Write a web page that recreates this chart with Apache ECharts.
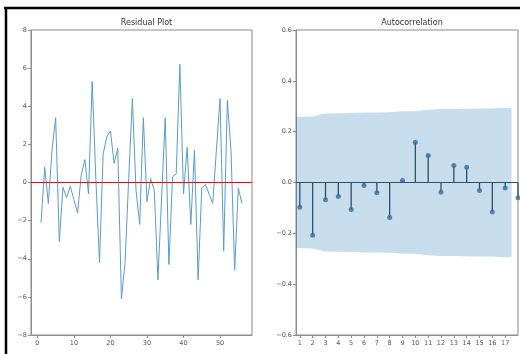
<!DOCTYPE html>
<html>
<head>
<meta charset="utf-8">
<script src="https://cdn.jsdelivr.net/npm/echarts@6/dist/echarts.min.js"></script>
<style>html,body{margin:0;padding:0;background:#fff;}#c{width:520px;height:354px;}</style>
</head>
<body>
<div id="c"></div>
<script>
// Residual series (index 1..56)
const residualIdx = [1,2,3,4,5,6,7,8,9,10,11,12,13,14,15,16,17,18,19,20,21,22,23,24,25,26,27,28,29,30,31,32,33,34,35,36,37,38,39,40,41,42,43,44,45,46,47,48,49,50,51,52,53,54,55,56];
const residuals = [-2.1,0.8,-1.1,1.7,3.4,-3.1,-0.25,-0.8,-0.2,-0.9,-1.6,0.4,1.2,-0.6,5.3,0.2,-4.2,1.5,2.4,2.7,1.0,1.8,-6.1,-4.2,0.2,4.4,-0.4,-2.2,3.4,-1.0,0.2,-0.4,-5.1,-0.8,3.4,-4.3,0.3,0.45,6.2,-0.6,1.85,-2.2,1.7,-5.1,-0.3,-0.1,-0.6,-1.1,1.7,4.4,-3.6,4.3,1.7,-4.6,-0.3,-1.1];
const residualTicks = [0,10,20,30,40,50];

// Autocorrelation (lags 1..18)
const lags = [1,2,3,4,5,6,7,8,9,10,11,12,13,14,15,16,17,18];
const acfValues = [-0.097,-0.208,-0.068,-0.055,-0.106,-0.012,-0.04,-0.138,0.008,0.158,0.106,-0.038,0.067,0.06,-0.031,-0.116,-0.022,-0.06];
const bandX = [0.5,2,3,4,5,6,7,8,9,10,11,12,13,14,15,16,17,17.5];
const bandUpper = [0.257,0.260,0.271,0.272,0.273,0.275,0.275,0.276,0.280,0.280,0.286,0.289,0.289,0.290,0.291,0.291,0.294,0.294];
const lagTicks = [1,2,3,4,5,6,7,8,9,10,11,12,13,14,15,16,17];

const bandLower = bandUpper.map(v => -v);

const fontFam = 'DejaVu Sans, sans-serif';
const axisColor = '#8c8c8c';
const labelStyle = {color: '#555', fontSize: 6.5, fontFamily: fontFam};
function fmtMinus(v, d) {
  const s = Math.abs(v).toFixed(d);
  return v < 0 ? '\u2212' + s : s;
}

const chart = echarts.init(document.getElementById('c'), null, {renderer: 'canvas'});
chart.setOption({
  animation: false,
  backgroundColor: '#fff',
  title: [
    {text: 'Residual Plot', left: 141.5, top: 14, textAlign: 'center',
     textStyle: {fontSize: 8, fontWeight: 'normal', color: '#333', fontFamily: fontFam}},
    {text: 'Autocorrelation', left: 407, top: 14, textAlign: 'center',
     textStyle: {fontSize: 8, fontWeight: 'normal', color: '#333', fontFamily: fontFam}}
  ],
  grid: [
    {left: 31, top: 30, width: 221, height: 305, show: true, borderColor: axisColor, borderWidth: 1, backgroundColor: 'transparent'},
    {left: 296, top: 30, width: 222, height: 305, show: true, borderColor: axisColor, borderWidth: 1, backgroundColor: 'transparent'}
  ],
  xAxis: [
    {type: 'value', gridIndex: 0, min: -1.75, max: 58.75, splitLine: {show: false},
     axisLine: {show: true, onZero: false, lineStyle: {color: axisColor}},
     axisTick: {show: true, length: 3, customValues: residualTicks, lineStyle: {color: axisColor}},
     axisLabel: Object.assign({customValues: residualTicks, margin: 5, formatter: v => fmtMinus(v, 0)}, labelStyle)},
    {type: 'value', gridIndex: 1, min: 0.7, max: 18, splitLine: {show: false},
     axisLine: {show: true, onZero: false, lineStyle: {color: axisColor}},
     axisTick: {show: true, length: 3, customValues: lagTicks, lineStyle: {color: axisColor}},
     axisLabel: Object.assign({customValues: lagTicks, margin: 5, formatter: v => String(v)}, labelStyle)}
  ],
  yAxis: [
    {type: 'value', gridIndex: 0, min: -8, max: 8, interval: 2, splitLine: {show: false},
     axisLine: {show: true, onZero: false, lineStyle: {color: axisColor}},
     axisTick: {show: true, length: 3, lineStyle: {color: axisColor}},
     axisLabel: Object.assign({margin: 4, formatter: v => fmtMinus(v, 0)}, labelStyle)},
    {type: 'value', gridIndex: 1, min: -0.6, max: 0.6, interval: 0.2, splitLine: {show: false},
     axisLine: {show: true, onZero: false, lineStyle: {color: axisColor}},
     axisTick: {show: true, length: 3, lineStyle: {color: axisColor}},
     axisLabel: Object.assign({margin: 4, formatter: v => fmtMinus(v, 1)}, labelStyle)}
  ],
  series: [
    {type: 'line', xAxisIndex: 0, yAxisIndex: 0, showSymbol: false, symbol: 'none',
     data: residualIdx.map((t, i) => [t, residuals[i]]),
     lineStyle: {color: '#5b9ccb', width: 1}, z: 3,
     markLine: {silent: true, symbol: 'none', label: {show: false},
       lineStyle: {color: '#ff0000', width: 1.2, type: 'solid'},
       data: [{yAxis: 0}]}},
    {type: 'custom', xAxisIndex: 1, yAxisIndex: 1, z: 1, clip: true,
     data: bandX.map((x, i) => [x, bandLower[i], bandUpper[i]]),
     renderItem: function (params, api) {
       if (params.dataIndex !== 0) return null;
       const pts = [];
       for (let i = 0; i < bandX.length; i++) pts.push(api.coord([bandX[i], bandUpper[i]]));
       for (let i = bandX.length - 1; i >= 0; i--) pts.push(api.coord([bandX[i], bandLower[i]]));
       return {type: 'polygon', shape: {points: pts},
               style: {fill: 'rgba(31,119,180,0.25)', stroke: null}};
     }},
    {type: 'bar', xAxisIndex: 1, yAxisIndex: 1, barWidth: 1.3,
     itemStyle: {color: '#2e4e6e'},
     data: lags.map((l, i) => [l, acfValues[i]]), z: 3,
     markLine: {silent: true, symbol: 'none', label: {show: false},
       lineStyle: {color: '#2e4e6e', width: 1, type: 'solid'},
       data: [{yAxis: 0}]}},
    {type: 'scatter', xAxisIndex: 1, yAxisIndex: 1, symbol: 'circle', symbolSize: 5,
     itemStyle: {color: '#35709f'},
     data: lags.map((l, i) => [l, acfValues[i]]), z: 4}
  ],
  graphic: [
    {type: 'line', shape: {x1: 4, y1: 8, x2: 525, y2: 8}, style: {stroke: '#000', lineWidth: 2.5}, z: 100},
    {type: 'line', shape: {x1: 6, y1: 7, x2: 6, y2: 360}, style: {stroke: '#000', lineWidth: 2.5}, z: 100}
  ]
});
</script>
</body>
</html>
